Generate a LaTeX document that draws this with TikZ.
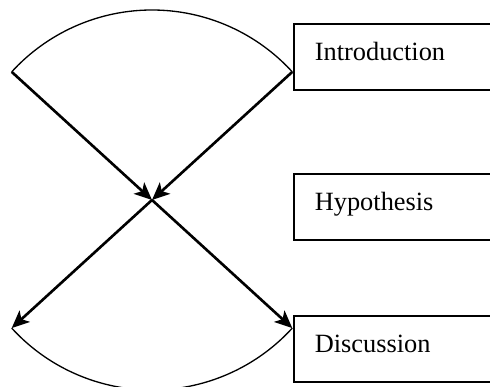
\documentclass[tikz,border=0pt]{standalone}
\usepackage{fontspec}
\setmainfont{Liberation Serif}
\usetikzlibrary{positioning, arrows.meta}
\tikzstyle{section} = [rectangle, draw=black, line width=0.9pt, minimum width=3.6cm, minimum height=1.056cm, text width=3cm, align=left, inner xsep=9.5pt, text height=8pt, text depth=4.6pt, font=\fontsize{12pt}{14pt}\selectfont, anchor=west]
\tikzstyle{arrow} = [line width=1.2pt, -{Stealth[length=8pt, width=7pt, inset=2pt]}]
\tikzstyle{rim} = [line width=0.6pt]

\begin{document}
\begin{tikzpicture}
        \useasboundingbox (0,0) rectangle (7.84,6.192);

        % Crossing point and fan ends
        \coordinate (cross) at (2.432,2.992);
        \path (cross) ++(137.6:3.04) coordinate (topleft);
        \path (cross) ++(42.4:3.04) coordinate (topright);
        \path (cross) ++(222.4:3.04) coordinate (bottomleft);
        \path (cross) ++(317.6:3.04) coordinate (bottomright);

        % Nodes
        \node (intro) [section] at (4.688,5.28) {Introduction};
        \node (hypo) [section] at (4.688,2.88) {Hypothesis};
        \node (disc) [section] at (4.688,0.608) {Discussion};

        % Arcs
        \draw [rim] (topleft) arc[start angle=137.6, end angle=42.4, radius=3.04];
        \draw [rim] (bottomleft) arc[start angle=222.4, end angle=317.6, radius=3.04];

        % Arrows
        \draw [arrow] (topleft) -- (cross);
        \draw [arrow] (topright) -- (cross);
        \draw [arrow] (cross) -- (bottomleft);
        \draw [arrow] (cross) -- (bottomright);

    \end{tikzpicture}
\end{document}
